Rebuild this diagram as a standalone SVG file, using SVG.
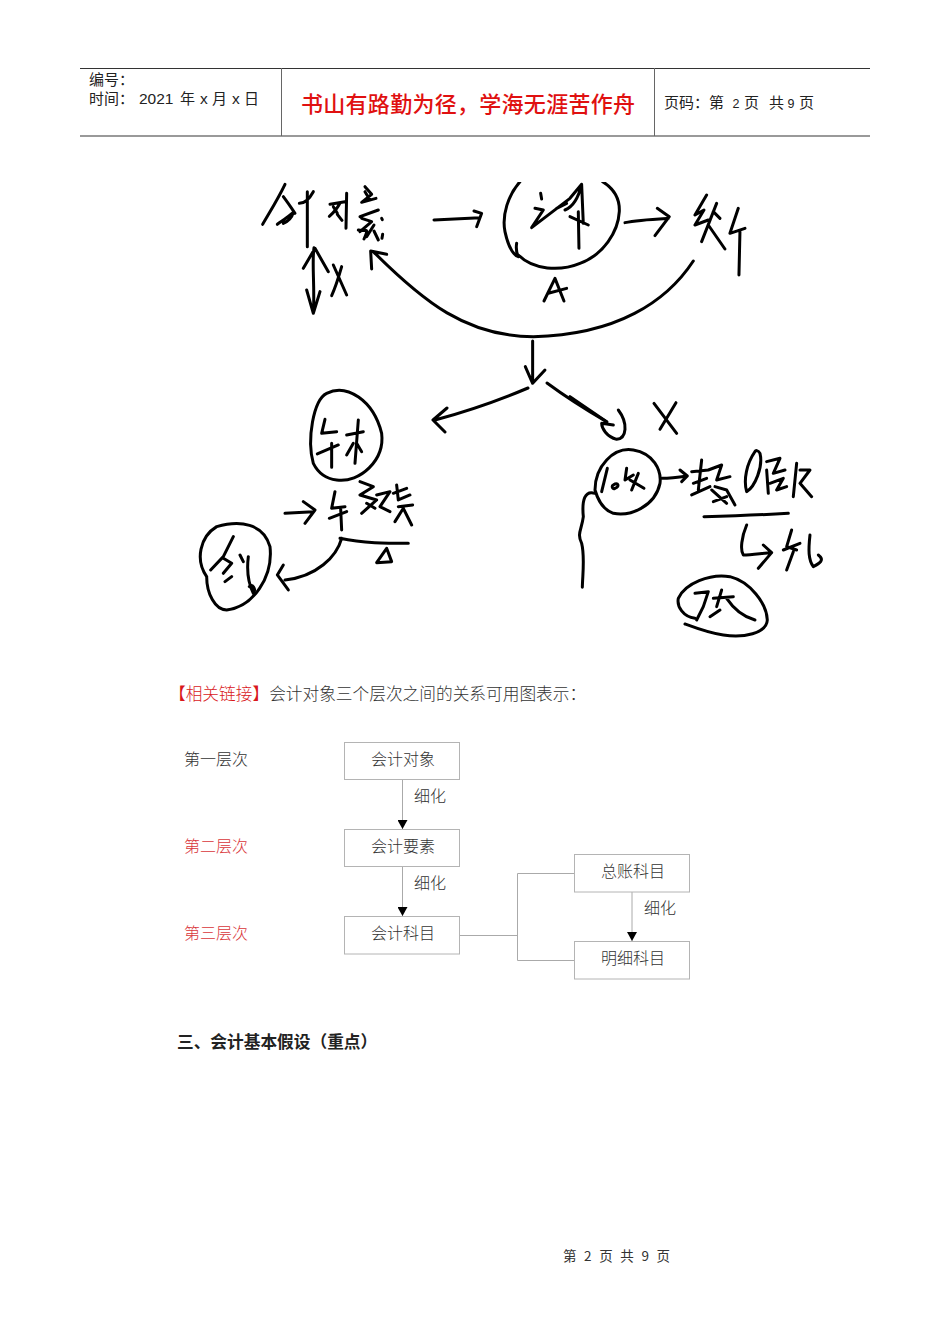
<svg xmlns="http://www.w3.org/2000/svg" width="950" height="1344" viewBox="0 0 950 1344">
<style>
text{font-family:"Noto Sans CJK SC","Liberation Sans",sans-serif;fill:#222}
.s{font-size:16px;fill:#333;font-weight:300}
.box{fill:#fff;stroke:#b4b4b4;stroke-width:1}
.ln{fill:none;stroke:#aaa;stroke-width:1}
.ink{fill:none;stroke:#000;stroke-linecap:round;stroke-linejoin:round;stroke-width:9}
.hd{font-size:15px}
.lat{font-family:"Liberation Sans",sans-serif;font-size:15.500px}
.dig{font-family:"Liberation Sans",sans-serif;font-size:12.500px}
</style>
<defs>
<marker id="ah" markerWidth="10" markerHeight="10" refX="9" refY="5" orient="auto" markerUnits="userSpaceOnUse"><path d="M0 0L9 5L0 10Z" fill="#000"/></marker>
<clipPath id="photo"><rect x="180" y="182" width="660" height="470"/></clipPath>
</defs>
<rect width="950" height="1344" fill="#fff"/>
<g id="header">
<path d="M80 68.500H870" stroke="#333" stroke-width="1"/>
<path d="M80 136H870" stroke="#777" stroke-width="1.500"/>
<path d="M281.500 68V136M654.500 68V136" stroke="#666" stroke-width="1"/>
<text class="hd" x="89" y="85">编号：</text>
<text class="hd" x="89" y="104">时间：</text>
<text class="lat" x="139" y="104">2021</text>
<text class="hd" x="180" y="104">年</text>
<text class="lat" x="200" y="104">x</text>
<text class="hd" x="212" y="104">月</text>
<text class="lat" x="232" y="104">x</text>
<text class="hd" x="244" y="104">日</text>
<text x="301" y="112" font-size="22" font-weight="500" style="fill:#e01010" textLength="334">书山有路勤为径，学海无涯苦作舟</text>
<text class="hd" x="664" y="108">页码：第</text>
<text class="dig" x="732.500" y="108">2</text>
<text class="hd" x="744" y="108">页</text>
<text class="hd" x="769" y="108">共</text>
<text class="dig" x="787.500" y="108">9</text>
<text class="hd" x="799" y="108">页</text>
</g>
<g id="sketch" clip-path="url(#photo)">
<g id="sketch-top" transform="translate(250 175) scale(.3333)" class="ink">
<path d="M38 148C60 110 85 70 105 28M100 65C115 85 125 100 135 115M82 148C100 135 115 125 130 112C125 130 112 140 100 145M148 85C165 85 178 72 190 50M172 50L172 215"/>
<path d="M240 88L285 80M238 124C252 112 262 100 270 84M290 55L288 160M262 118L276 136M250 95L262 115"/>
<path d="M345 35L365 58L335 82L378 70M345 50L360 75M330 125L385 105M325 165C345 172 360 152 342 192M335 130L365 140L330 170M372 150L350 185M372 168L385 195M395 130L397 134M398 178L396 190"/>
<path d="M552 135L690 128M672 108L695 115L680 155"/>
<path d="M810 20C775 60 755 120 765 170C775 215 790 240 805 245M800 205C797 225 800 235 805 245M805 240C850 285 930 290 990 265C1060 240 1105 170 1108 110C1110 70 1090 40 1058 20"/>
<path d="M872 55L875 72M855 100L880 105L845 158L960 70L995 28L1000 145M995 28C985 70 970 95 945 105M960 125L1015 150M985 110L987 220M920 100L950 85"/>
<path d="M1125 143C1160 135 1200 133 1255 130M1222 100L1258 125L1215 182"/>
<path d="M1370 60L1335 120L1362 105L1335 150L1375 135M1400 85L1355 200M1375 150L1425 222M1390 110L1410 130M1465 100L1440 175L1485 160M1470 170L1467 300"/>
<path d="M192 218C185 260 195 340 190 415M160 280L195 220L235 290M170 345L190 415L210 350"/>
<path d="M250 270L290 360M275 275C265 310 255 340 245 362"/>
<path d="M1330 258C1250 380 1100 480 850 485C650 485 520 380 370 230M365 282L362 228L410 238"/>
<path d="M882 378L915 310L942 378M895 355L950 340"/>
<path d="M848 498L848 625M826 575L848 625L885 585"/>
</g>
<path class="ink" style="stroke-width:3" d="M528 388C495 402 465 412 435 420M447 408L433 420L445 432"/>
<path class="ink" style="stroke-width:3" d="M547 383C570 400 590 412 607 422"/>
<g id="sketch-left" transform="translate(190 380) scale(.3333)" class="ink">
<path d="M370 250C350 180 370 60 410 40C470 10 550 60 575 160C585 240 510 310 440 300C400 295 380 270 370 250"/>
<path d="M405 118L395 160L440 155M382 222L445 195M425 190L425 262M470 165L520 155M505 120L495 250M490 190L470 225M500 190L515 215"/>
<path d="M435 335L425 385L465 380M418 415L470 395M452 385L455 450"/>
<path d="M510 305L550 320L510 345L560 360L515 400M530 370L555 385M560 345L600 335L570 380L600 395M620 315L625 360L660 345M625 380L668 375M640 385L615 425M640 385L665 435M610 340L650 325"/>
<path d="M285 400L370 395M340 365L375 390L345 430"/>
<path d="M50 590C15 540 30 470 80 440C150 420 220 430 240 500C250 590 190 680 110 690C75 690 50 640 50 590"/>
<path d="M130 470L100 530L62 570M100 535L125 550L100 580M150 525L160 545M175 530C170 570 175 610 190 640C200 625 185 610 178 620M125 590L105 605"/>
<path d="M455 475C440 530 380 590 285 600M280 555L262 585L295 630M450 475C520 490 590 490 655 490M560 548L590 505L605 545Z"/>
</g>
<g id="sketch-right" transform="translate(570 390) scale(.3333)" class="ink">
<path d="M110 95L0 20M145 60C175 100 170 145 140 148C110 140 95 115 95 100L130 105"/>
<path d="M252 40L320 130M318 38L270 118"/>
<path d="M75 300C75 230 130 170 190 180C250 190 275 240 270 280C255 350 180 380 130 370C100 360 85 335 75 300"/>
<path d="M75 310C45 300 35 330 40 380C35 420 20 430 35 460C45 500 38 550 37 592"/>
<path d="M112 235L95 305M130 285C145 275 150 290 135 295C125 300 125 285 130 285M170 235L165 270L190 255M205 250L185 300M180 270L222 295"/>
<path d="M275 265C300 265 325 262 352 258M330 240L352 258L335 275"/>
<path d="M395 210L385 300M365 245L415 240M370 280L410 265M365 315L420 290M415 240L455 225L440 270L480 260M435 290L470 300L495 345M430 335L470 320M425 300L470 340"/>
<path d="M555 185C530 220 520 270 530 305C555 290 580 230 570 190C565 180 555 180 555 185M590 215L630 205L610 250L645 240M600 280L640 265L620 300L650 290M590 240L595 310M680 220L670 320M690 240L720 240L690 280L725 320"/>
<path d="M402 380C480 378 570 375 655 370"/>
<path d="M530 405C515 440 510 480 520 495C545 495 575 490 605 488M580 465L605 488L565 535"/>
<path d="M665 420L650 470L680 480M640 480L690 460M670 485L650 540M720 435C715 480 715 510 730 530C750 520 765 510 745 495"/>
<path d="M375 685C340 680 320 650 325 625C345 580 420 550 480 560C540 575 590 640 592 690C590 730 520 745 460 735C420 730 380 715 345 702"/>
<path d="M375 610L415 605L400 650L380 690M455 600L440 650M430 625L490 620M470 625C490 655 520 680 555 690M450 660L420 680"/>
</g>
</g>
<g id="caption">
<text x="169" y="700" font-size="16.700" font-weight="300"><tspan style="fill:#d9181c">【相关链接】</tspan><tspan style="fill:#333">会计对象三个层次之间的关系可用图表示：</tspan></text>
</g>
<g id="connectors">
<path class="ln" d="M402.500 780V829" marker-end="url(#ah)"/>
<path class="ln" d="M402.500 867V916" marker-end="url(#ah)"/>
<path class="ln" d="M632 892V941" marker-end="url(#ah)"/>
<path class="ln" d="M460 935.500H517.500M574 873.500H517.500V960.500H574"/>
<text class="s" x="414" y="802">细化</text>
<text class="s" x="414" y="889">细化</text>
<text class="s" x="644" y="914">细化</text>
</g>
<g id="level-1"><text class="s" x="184" y="765">第一层次</text></g>
<g id="level-2"><text class="s" x="184" y="852" style="fill:#d9363a">第二层次</text></g>
<g id="level-3"><text class="s" x="184" y="939" style="fill:#d9363a">第三层次</text></g>
<g id="node-duixiang"><rect class="box" x="344.500" y="742.500" width="115" height="37"/><text class="s" x="371" y="765">会计对象</text></g>
<g id="node-yaosu"><rect class="box" x="344.500" y="829.500" width="115" height="37"/><text class="s" x="371" y="852">会计要素</text></g>
<g id="node-kemu"><rect class="box" x="344.500" y="916.500" width="115" height="37.500"/><text class="s" x="371" y="939">会计科目</text></g>
<g id="node-zongzhang"><rect class="box" x="574.500" y="854.500" width="115" height="37.500"/><text class="s" x="601" y="877">总账科目</text></g>
<g id="node-mingxi"><rect class="box" x="574.500" y="941.500" width="115" height="37.500"/><text class="s" x="601" y="964">明细科目</text></g>
<g id="section"><text x="177" y="1048" font-size="16.700" font-weight="700" style="fill:#222">三、会计基本假设（重点）</text></g>
<g id="footer"><text x="563" y="1261" font-size="13.500" textLength="107" style="fill:#333">第 2 页 共 9 页</text></g>
</svg>
